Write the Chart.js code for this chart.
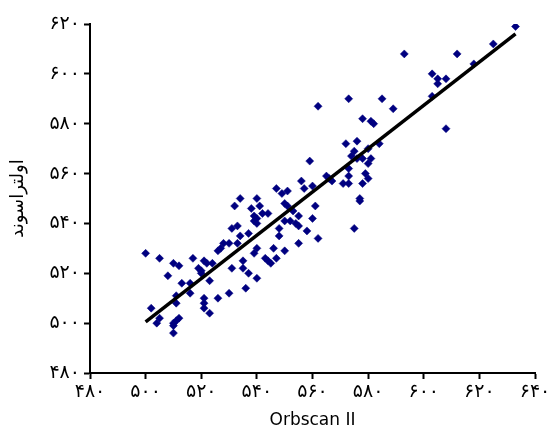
<!DOCTYPE html>
<html>
<head>
<meta charset="utf-8">
<script src="https://cdn.jsdelivr.net/npm/chart.js@4"></script>
<style>
  body { margin: 0; background: #fff; }
  #wrap { width: 556px; height: 439px; }
</style>
</head>
<body>
<div id="wrap"><canvas id="chart-scan"></canvas></div>
<script>
// Orbscan II readings
const orbscan = [
  633, 625, 612, 593, 618, 603, 608, 605, 605, 603, 585, 589, 578, 581, 582, 608,
  562, 573, 572, 576, 559, 575, 574, 576, 578, 580, 584, 581, 580, 573, 565, 566,
  567, 573, 579, 580, 571, 573, 578, 577, 577, 556, 557, 560, 561, 549, 551, 550,
  551, 553, 555, 560, 550, 552, 554, 555, 548, 558, 575, 562, 534, 540, 532, 541,
  538, 539, 539, 540, 540, 542, 544, 533, 531, 534, 537, 548, 530, 528, 527, 526,
  533, 539, 540, 546, 550, 555, 543, 544, 545, 547, 535, 521, 522, 524, 531, 535,
  537, 540, 523, 536, 520, 500, 505, 510, 512, 517, 508, 519, 520, 513, 516, 511,
  516, 511, 521, 521, 521, 526, 523, 502, 505, 504, 510, 511, 512, 510, 510, 530,
  547
];
// ultrasound readings
const ultrasound = [
  619, 612, 608, 608, 604, 600, 598, 598, 596, 591, 590, 586, 582, 581, 580, 578,
  587, 590, 572, 573, 565, 569, 567, 566, 566, 570, 572, 566, 564, 562, 559, 558,
  557, 559, 560, 558, 556, 556, 556, 550, 549, 557, 554, 555, 547, 552, 553, 548,
  547, 545, 543, 542, 541, 541, 540, 539, 538, 537, 538, 534, 550, 550, 547, 547,
  546, 543, 541, 542, 540, 544, 544, 539, 538, 535, 536, 535, 532, 532, 530, 529,
  532, 528, 530, 530, 529, 532, 526, 525, 524, 526, 525, 525, 524, 524, 522, 522,
  520, 518, 517, 514, 521, 528, 526, 524, 523, 526, 519, 522, 520, 516, 516, 511,
  512, 508, 510, 508, 506, 510, 504, 506, 502, 500, 500, 501, 502, 499, 496, 512,
  554
];
// fitted line ends
const fitX = [500, 633];
const fitY = [500.5, 616];

const xTicks = [480, 500, 520, 540, 560, 580, 600, 620, 640];
const yTicks = [480, 500, 520, 540, 560, 580, 600, 620];

const faDigits = "۰۱۲۳۴۵۶۷۸۹";
const toFa = (n) => String(n).replace(/[0-9]/g, (d) => faDigits[d]);

const points = [];
for (let i = 0; i < orbscan.length; i++) {
  points.push({ x: orbscan[i], y: ultrasound[i] });
}
const fitLine = [];
for (let i = 0; i < fitX.length; i++) {
  fitLine.push({ x: fitX[i], y: fitY[i] });
}

const font = "'DejaVu Sans', Tahoma, sans-serif";

new Chart(document.getElementById("chart-scan").getContext("2d"), {
  type: "scatter",
  data: {
    datasets: [
      {
        type: "line",
        data: fitLine,
        borderColor: "#000",
        borderWidth: 3.5,
        pointRadius: 0,
        fill: false,
        order: 0,
      },
      {
        data: points,
        pointStyle: "rectRot",
        pointRadius: 4,
        backgroundColor: "#000080",
        borderColor: "#000080",
        borderWidth: 0.5,
        order: 1,
      },
    ],
  },
  options: {
    responsive: true,
    maintainAspectRatio: false,
    animation: false,
    layout: { padding: { left: 0, right: 21, top: 24, bottom: 0 } },
    plugins: { legend: { display: false }, tooltip: { enabled: false } },
    scales: {
      x: {
        type: "linear",
        min: 480,
        max: 640,
        afterBuildTicks: (s) => { s.ticks = xTicks.map((v) => ({ value: v })); },
        afterFit: (s) => { s.height = 66; },
        grid: { drawOnChartArea: false, drawTicks: true, tickLength: 6, color: "#000", tickWidth: 2 },
        border: { color: "#000", width: 2 },
        ticks: {
          color: "#000",
          padding: 2,
          maxRotation: 0,
          font: { family: font, size: 19 },
          callback: (v) => toFa(v),
        },
        title: {
          display: true,
          text: "Orbscan II",
          color: "#000",
          font: { family: font, size: 17 },
          padding: { top: 0, bottom: 8 },
        },
      },
      y: {
        type: "linear",
        min: 480,
        max: 620,
        afterBuildTicks: (s) => { s.ticks = yTicks.map((v) => ({ value: v })); },
        afterFit: (s) => { s.width = 90; },
        grid: { drawOnChartArea: false, drawTicks: true, tickLength: 6, color: "#000", tickWidth: 2 },
        border: { color: "#000", width: 2 },
        ticks: {
          color: "#000",
          padding: 4,
          font: { family: font, size: 19 },
          callback: (v) => toFa(v),
        },
        title: {
          display: true,
          text: "اولتراسوند",
          color: "#000",
          font: { family: font, size: 18 },
          padding: { top: 8, bottom: 0 },
        },
      },
    },
  },
});
</script>
</body>
</html>
